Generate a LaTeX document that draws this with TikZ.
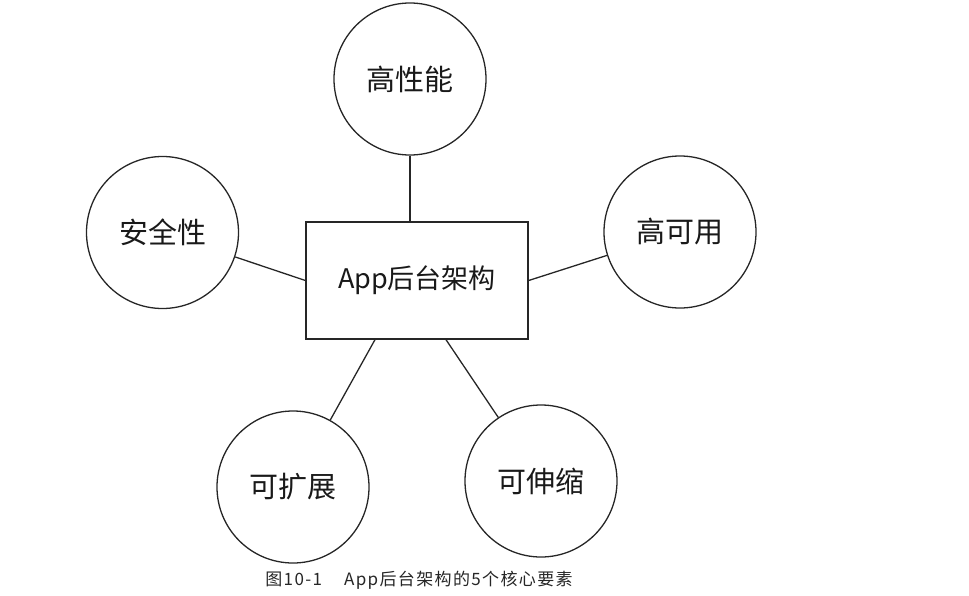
\documentclass[tikz,border=0pt]{standalone}
\usepackage{fontspec}
\newfontfamily\cjk{Noto Sans CJK SC}
\newfontfamily\cjkcap[LetterSpace=8]{Noto Sans CJK SC}
\begin{document}
\begin{tikzpicture}[x=1pt,y=-1pt,
  elem/.style={circle,draw=black!85,line width=1.3pt,minimum size=152pt,inner sep=0pt,font=\cjk\fontsize{29}{32}\selectfont,text=black!90},
  core/.style={rectangle,draw=black!85,line width=1.3pt,minimum width=222pt,minimum height=117pt,inner sep=0pt,font=\cjk\fontsize{27}{30}\selectfont,text=black!90},
  link/.style={draw=black!85,line width=1.3pt}]
\useasboundingbox (0,0) rectangle (969,595);
\node[core] (app) at (417,280.5) {App后台架构};
\node[elem] (perf) at (410,79) {高性能};
\node[elem] (sec) at (162.5,232.5) {安全性};
\node[elem] (avail) at (680,232) {高可用};
\node[elem] (ext) at (293,487) {可扩展};
\node[elem] (scale) at (541,481) {可伸缩};
\node[font=\cjkcap\fontsize{17}{20}\selectfont,text=black!85] (cap) at (419,580) {图10-1\hspace{1.3em}App后台架构的5个核心要素};
\draw[link] (perf.south) -- (perf.south |- app.north);
\draw[link] (sec) -- (app.west);
\draw[link] (app.east) -- (avail);
\draw[link] ([xshift=-42pt]app.south) -- (ext);
\draw[link] ([xshift=29pt]app.south) -- (scale);
\end{tikzpicture}
\end{document}
